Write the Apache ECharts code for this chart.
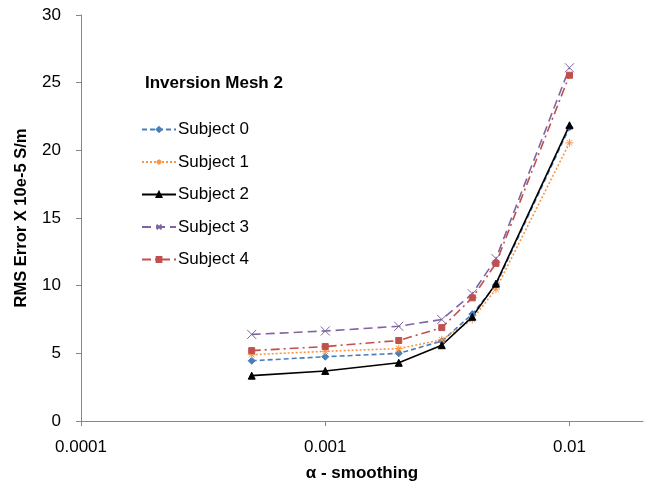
<!DOCTYPE html>
<html>
<head>
<meta charset="utf-8">
<script src="https://cdn.jsdelivr.net/npm/echarts@6/dist/echarts.min.js"></script>
<style>
  html, body { margin: 0; padding: 0; background: #fff; }
  #chart { width: 645px; height: 487px; }
</style>
</head>
<body>
<div id="chart"></div>
<script>
// smoothing parameter alpha
var alphas = [0.0005, 0.001, 0.002, 0.003, 0.004, 0.005, 0.01];
var subject0 = [4.45, 4.75, 5.0, 5.9, 7.9, 10.05, 21.7];
var subject1 = [4.9, 5.15, 5.35, 6.0, 7.5, 9.75, 20.55];
var subject2 = [3.35, 3.7, 4.3, 5.6, 7.7, 10.15, 21.85];
var subject3 = [6.4, 6.65, 7.0, 7.5, 9.4, 12.0, 26.1];
var subject4 = [5.2, 5.5, 5.95, 6.9, 9.1, 11.65, 25.55];
var seriesNames = ['Subject 0', 'Subject 1', 'Subject 2', 'Subject 3', 'Subject 4'];

var FONT = 'Liberation Sans';

function pairs(vals) {
  var out = [];
  for (var i = 0; i < alphas.length; i++) {
    out.push([alphas[i], vals[i]]);
  }
  return out;
}

function makeSeries(name, vals, color, dash, symbol, size) {
  return {
    name: name,
    type: 'line',
    data: pairs(vals),
    symbol: symbol,
    symbolSize: size,
    showAllSymbol: true,
    lineStyle: { color: color, width: 1.6, type: dash },
    itemStyle: { color: color, borderColor: color, borderWidth: 1 },
    emphasis: { disabled: true },
    animation: false
  };
}

var chart = echarts.init(document.getElementById('chart'));
var option = {
  backgroundColor: '#fff',
  animation: false,
  grid: { left: 81, right: 2, top: 15, bottom: 66, containLabel: false },
  title: {
    text: 'Inversion Mesh 2',
    left: 140,
    top: 70,
    textStyle: { fontFamily: FONT, fontSize: 17, fontWeight: 'bold', color: '#000' }
  },
  legend: {
    orient: 'vertical',
    left: 136,
    top: 115,
    itemWidth: 34,
    itemHeight: 6,
    itemGap: 13.5,
    data: seriesNames,
    textStyle: { fontFamily: FONT, fontSize: 17, lineHeight: 19, color: '#000', padding: [0, 0, 0, -3] }
  },
  xAxis: {
    type: 'log',
    logBase: 10,
    min: 0.0001,
    max: 0.02,
    name: 'α - smoothing',
    nameLocation: 'middle',
    nameGap: 44,
    nameTextStyle: { fontFamily: FONT, fontSize: 17, fontWeight: 'bold', color: '#000' },
    axisLine: { lineStyle: { color: '#868686', width: 1 } },
    axisTick: { show: true, inside: false, length: 5, lineStyle: { color: '#868686' } },
    axisLabel: {
      fontFamily: FONT, fontSize: 17, color: '#000', margin: 18,
      showMaxLabel: false,
      formatter: function (v) { return String(v); }
    },
    splitLine: { show: false },
    minorTick: { show: false }
  },
  yAxis: {
    type: 'value',
    min: 0,
    max: 30,
    interval: 5,
    name: 'RMS Error X 10e-5 S/m',
    nameLocation: 'middle',
    nameGap: 51,
    nameRotate: 90,
    nameTextStyle: { fontFamily: FONT, fontSize: 16.5, fontWeight: 'bold', color: '#000' },
    axisLine: { show: true, lineStyle: { color: '#868686', width: 1 } },
    axisTick: { show: true, inside: false, length: 5, lineStyle: { color: '#868686' } },
    axisLabel: { fontFamily: FONT, fontSize: 17, color: '#000', margin: 20 },
    splitLine: { show: false }
  },
  series: [
    makeSeries('Subject 0', subject0, '#4A7EBB', [5, 3], 'diamond', 7),
    makeSeries('Subject 1', subject1, '#F79646', [2, 2],
      'path://M0,-5L0,5M-5,0L5,0M-3.5,-3.5L3.5,3.5M-3.5,3.5L3.5,-3.5', 8),
    makeSeries('Subject 2', subject2, '#000000', 'solid', 'triangle', 7),
    makeSeries('Subject 3', subject3, '#8064A2', [9, 5], 'path://M-4,-4L4,4M-4,4L4,-4', 9),
    makeSeries('Subject 4', subject4, '#C0504D', [9, 4, 2, 4], 'rect', 6)
  ]
};
chart.setOption(option);
</script>
</body>
</html>
